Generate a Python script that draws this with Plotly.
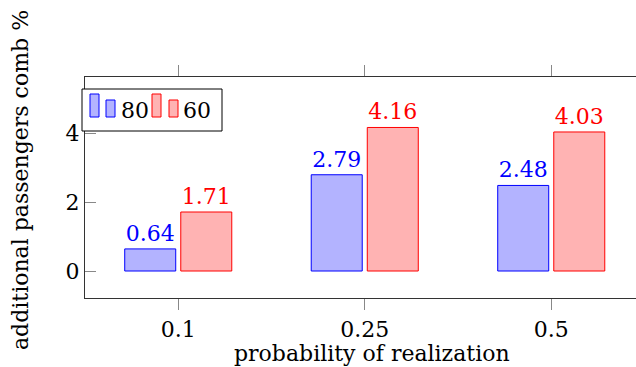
import plotly.graph_objects as go

categories = ["0.1", "0.25", "0.5"]
series_80 = [0.64, 2.79, 2.48]
series_60 = [1.71, 4.16, 4.03]
series_names = ["80", "60"]
y_ticks = [0, 2, 4]

W, H = 636, 367
L, R, T, B = 85, 636, 77, 298  # plot area pixel edges

def px(x):
    return (x - L) / (R - L)

def py(y):
    return (B - y) / (B - T)

FONT = "DejaVu Serif, Liberation Serif, serif"
BLUE_FILL = "rgb(179,179,255)"
RED_FILL = "rgb(255,179,179)"

xs = list(range(len(categories)))
bw = 0.2735
gap = 0.0135

fig = go.Figure()
fig.add_trace(go.Bar(
    x=xs, y=series_80, name=series_names[0], width=bw, offset=-bw - gap,
    marker=dict(color=BLUE_FILL, line=dict(color="blue", width=1)),
    text=[f"{v:.2f}" for v in series_80], textposition="outside",
    textfont=dict(color="blue", size=22, family=FONT), cliponaxis=False,
))
fig.add_trace(go.Bar(
    x=xs, y=series_60, name=series_names[1], width=bw, offset=gap,
    marker=dict(color=RED_FILL, line=dict(color="red", width=1)),
    text=[f"{v:.2f}" for v in series_60], textposition="outside",
    textfont=dict(color="red", size=22, family=FONT), cliponaxis=False,
))

shapes = []
annotations = []
# legend box
shapes.append(dict(type="rect", xref="paper", yref="paper",
                   x0=px(82), x1=px(222), y0=py(131), y1=py(89),
                   line=dict(color="black", width=1), fillcolor="white", layer="above"))
legend_items = [
    (90, 106, 119, "blue", BLUE_FILL, series_names[0]),
    (152, 169, 181, "red", RED_FILL, series_names[1]),
]
for r1, r2, tx, lc, fc, name in legend_items:
    shapes.append(dict(type="rect", xref="paper", yref="paper",
                       x0=px(r1), x1=px(r1 + 9), y0=py(117), y1=py(94),
                       line=dict(color=lc, width=1), fillcolor=fc, layer="above"))
    shapes.append(dict(type="rect", xref="paper", yref="paper",
                       x0=px(r2), x1=px(r2 + 9), y0=py(117), y1=py(100),
                       line=dict(color=lc, width=1), fillcolor=fc, layer="above"))
    annotations.append(dict(xref="paper", yref="paper", x=px(tx), y=py(110),
                            xanchor="left", yanchor="middle", showarrow=False,
                            text=name, font=dict(size=22, color="black", family=FONT)))

annotations.append(dict(xref="paper", yref="paper", x=px(20), y=py(180),
                        xanchor="center", yanchor="middle", showarrow=False, textangle=-90,
                        text="additional passengers comb %",
                        font=dict(size=22, color="black", family=FONT)))
annotations.append(dict(xref="paper", yref="paper", x=px(372), y=py(353),
                        xanchor="center", yanchor="middle", showarrow=False,
                        text="probability of realization",
                        font=dict(size=22, color="black", family=FONT)))

fig.update_layout(
    width=W, height=H,
    margin=dict(l=L, r=W - R, t=T, b=H - B, pad=0),
    paper_bgcolor="white", plot_bgcolor="white",
    barmode="overlay", showlegend=False,
    font=dict(family=FONT, size=22, color="black"),
    shapes=shapes, annotations=annotations,
    xaxis=dict(
        range=[-0.5, -0.5 + (R - L) / 186.5],
        tickmode="array", tickvals=xs, ticktext=categories,
        ticks="outside", ticklen=11, tickcolor="#888", tickwidth=1,
        showline=True, linecolor="#333", linewidth=1.3, mirror="ticks",
        showgrid=False, zeroline=False,
        tickfont=dict(size=22, family=FONT),
    ),
    yaxis=dict(
        range=[-(B - 271) / 34.5, (271 - T) / 34.5],
        tickmode="array", tickvals=y_ticks, ticktext=[str(v) for v in y_ticks],
        ticks="inside", ticklen=11, tickcolor="#888", tickwidth=1,
        showline=True, linecolor="#333", linewidth=1.3, mirror=False,
        showgrid=False, zeroline=False,
        tickfont=dict(size=22, family=FONT),
    ),
)

fig.write_html("out.html")
